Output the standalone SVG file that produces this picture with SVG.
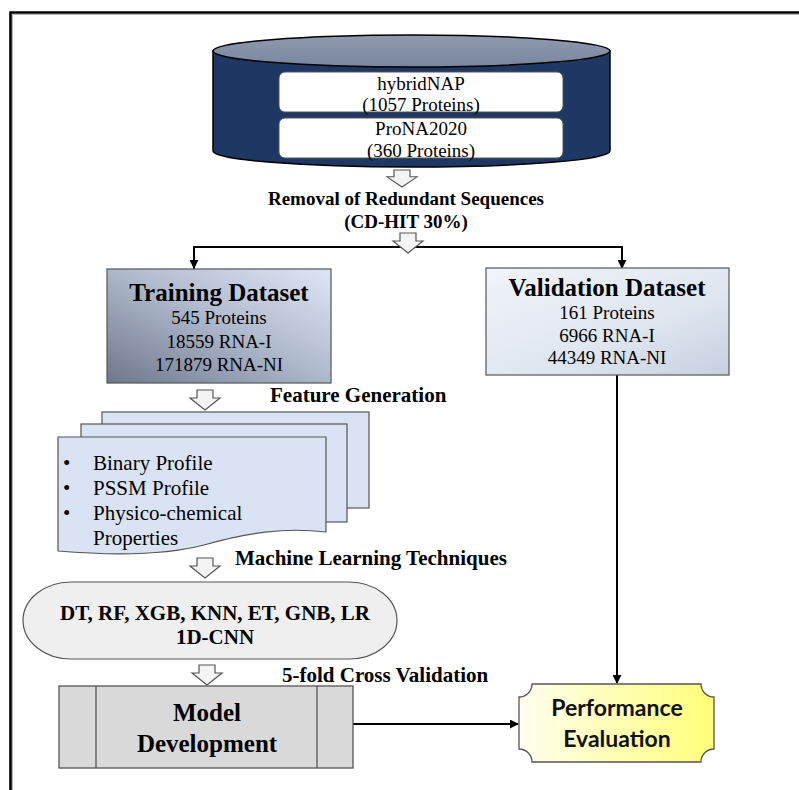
<svg xmlns="http://www.w3.org/2000/svg" width="799" height="790" viewBox="0 0 799 790">
  <style>
    .serif { font-family: "Liberation Serif", "Times New Roman", serif; fill: #000; }
    .b { font-weight: bold; }
    .mid { text-anchor: middle; }
    .sans { font-family: Lato, "Open Sans", "Liberation Sans", sans-serif; font-weight: bold; fill: #111; }
    .edge { fill: none; stroke: #000; stroke-width: 2; }
    .hollow { fill: #f4f4f4; stroke: #555; stroke-width: 1.2; stroke-linejoin: miter; }
    .outline { stroke: #555; stroke-width: 1.2; }
  </style>
  <defs>
    <marker id="head" viewBox="0 0 10 10" refX="9" refY="5" markerWidth="4.5" markerHeight="4.5" orient="auto" markerUnits="strokeWidth">
      <path d="M0,0 L10,5 L0,10 Z" fill="#000"/>
    </marker>
    <linearGradient id="trainFill" x1="0" y1="1" x2="1" y2="0">
      <stop offset="0" stop-color="#6e778c"/>
      <stop offset="0.55" stop-color="#b3bdd0"/>
      <stop offset="1" stop-color="#dde6f5"/>
    </linearGradient>
    <linearGradient id="validFill" x1="0" y1="0" x2="1" y2="1">
      <stop offset="0" stop-color="#f1f4f9"/>
      <stop offset="0.6" stop-color="#dfe6f0"/>
      <stop offset="1" stop-color="#c5d0df"/>
    </linearGradient>
    <linearGradient id="perfFill" x1="0" y1="0" x2="1" y2="0">
      <stop offset="0" stop-color="#fffef0"/>
      <stop offset="1" stop-color="#ffff78"/>
    </linearGradient>
    <linearGradient id="dbTop" x1="0" y1="0" x2="0" y2="1">
      <stop offset="0" stop-color="#8f9ab0"/>
      <stop offset="1" stop-color="#7a869e"/>
    </linearGradient>
    <path id="blockArrow" d="M-8,0 H8 V8 H15 L0,20 L-15,8 H-8 Z"/>
  </defs>

  <rect width="799" height="790" fill="#fff"/>
  <!-- outer frame -->
  <path d="M10.5,790 V12.5 H799" fill="none" stroke="#000" stroke-width="2.6"/>
  <path d="M12.5,790 V14.5 H799" fill="none" stroke="#aaa" stroke-width="0.8"/>

  <!-- source database -->
  <g id="database">
    <path d="M213,51 V151 A198.5,16 0 0 0 610,151 V51 Z" fill="#1f3763" stroke="#000" stroke-width="1.5"/>
    <ellipse cx="411.5" cy="51" rx="198.5" ry="16" fill="url(#dbTop)" stroke="#000" stroke-width="1.5"/>
    <rect x="279" y="72" width="284" height="40" rx="6" fill="#fff" stroke="#555" stroke-width="1"/>
    <rect x="279" y="118" width="284" height="40" rx="6" fill="#fff" stroke="#555" stroke-width="1"/>
    <text class="serif mid" x="421" y="90" font-size="19">hybridNAP</text>
    <text class="serif mid" x="421" y="111" font-size="19">(1057 Proteins)</text>
    <text class="serif mid" x="421" y="135" font-size="19">ProNA2020</text>
    <text class="serif mid" x="421" y="157" font-size="19">(360 Proteins)</text>
  </g>

  <g id="redundancy-step">
    <use href="#blockArrow" transform="translate(402,170) scale(1,0.85)" class="hollow"/>
    <text class="serif b mid" x="406" y="205" font-size="19">Removal of Redundant Sequences</text>
    <text class="serif b mid" x="406" y="228" font-size="19">(CD-HIT 30%)</text>
  </g>

  <!-- connectors -->
  <g id="connectors">
    <path class="edge" d="M194,270 V247 H622 V268" marker-end="url(#head)"/>
    <path class="edge" d="M194,247 V268" marker-end="url(#head)"/>
    <path class="edge" d="M617,375 V683" marker-end="url(#head)"/>
    <path class="edge" d="M353,724 H518" marker-end="url(#head)"/>
  </g>

  <use href="#blockArrow" transform="translate(408,233)" class="hollow"/>

  <g id="training-dataset">
    <rect x="107" y="269" width="224" height="114" fill="url(#trainFill)" stroke="#555" stroke-width="1.2"/>
    <text class="serif b mid" x="219" y="301" font-size="25">Training Dataset</text>
    <text class="serif mid" x="219" y="324" font-size="19">545 Proteins</text>
    <text class="serif mid" x="219" y="348" font-size="19">18559 RNA-I</text>
    <text class="serif mid" x="219" y="371" font-size="19">171879 RNA-NI</text>
  </g>

  <g id="validation-dataset">
    <rect x="486" y="268" width="243" height="107" fill="url(#validFill)" stroke="#555" stroke-width="1.2"/>
    <text class="serif b mid" x="607" y="296" font-size="25">Validation Dataset</text>
    <text class="serif mid" x="607" y="319" font-size="19">161 Proteins</text>
    <text class="serif mid" x="607" y="342" font-size="19">6966 RNA-I</text>
    <text class="serif mid" x="607" y="364" font-size="19">44349 RNA-NI</text>
  </g>

  <g id="feature-generation">
    <use href="#blockArrow" transform="translate(205,390)" class="hollow"/>
    <text class="serif b" x="270" y="402" font-size="21">Feature Generation</text>
    <rect x="102" y="412" width="267" height="96" fill="#dae3f3" class="outline"/>
    <rect x="81" y="424" width="266" height="98" fill="#dae3f3" class="outline"/>
    <path d="M58,437 H326 V532 C284,527 246,533 204,545 C166,555 118,556 58,551 Z" fill="#dae3f3" class="outline"/>
    <g class="serif" font-size="21">
      <text x="63" y="470">•</text>
      <text x="93" y="470">Binary Profile</text>
      <text x="63" y="495">•</text>
      <text x="93" y="495">PSSM Profile</text>
      <text x="63" y="520">•</text>
      <text x="93" y="520">Physico-chemical</text>
      <text x="93" y="545">Properties</text>
    </g>
  </g>

  <g id="ml-techniques">
    <use href="#blockArrow" transform="translate(205,558)" class="hollow"/>
    <text class="serif b" x="235" y="565" font-size="21">Machine Learning Techniques</text>
    <rect x="23" y="582" width="374" height="77" rx="48" ry="38.5" fill="#efefef" class="outline"/>
    <text class="serif b mid" x="215" y="620" font-size="21">DT, RF, XGB, KNN, ET, GNB, LR</text>
    <text class="serif b mid" x="215" y="644" font-size="21">1D-CNN</text>
  </g>

  <g id="model-development">
    <use href="#blockArrow" transform="translate(207,665)" class="hollow"/>
    <text class="serif b" x="282" y="682" font-size="21">5-fold Cross Validation</text>
    <rect x="59" y="686" width="294" height="82" fill="#d9d9d9" stroke="#555" stroke-width="1.3"/>
    <path d="M96,686 V768 M317,686 V768" stroke="#555" stroke-width="1.3"/>
    <text class="serif b mid" x="207" y="721" font-size="25">Model</text>
    <text class="serif b mid" x="207" y="752" font-size="25">Development</text>
  </g>

  <g id="performance-evaluation">
    <path d="M532,684 H701 A13,13 0 0 0 714,697 V749 A13,13 0 0 0 701,762 H532 A13,13 0 0 0 519,749 V697 A13,13 0 0 0 532,684 Z" fill="url(#perfFill)" stroke="#555" stroke-width="1.3"/>
    <text class="sans mid" x="617" y="716" font-size="23">Performance</text>
    <text class="sans mid" x="617" y="747" font-size="23">Evaluation</text>
  </g>
</svg>
